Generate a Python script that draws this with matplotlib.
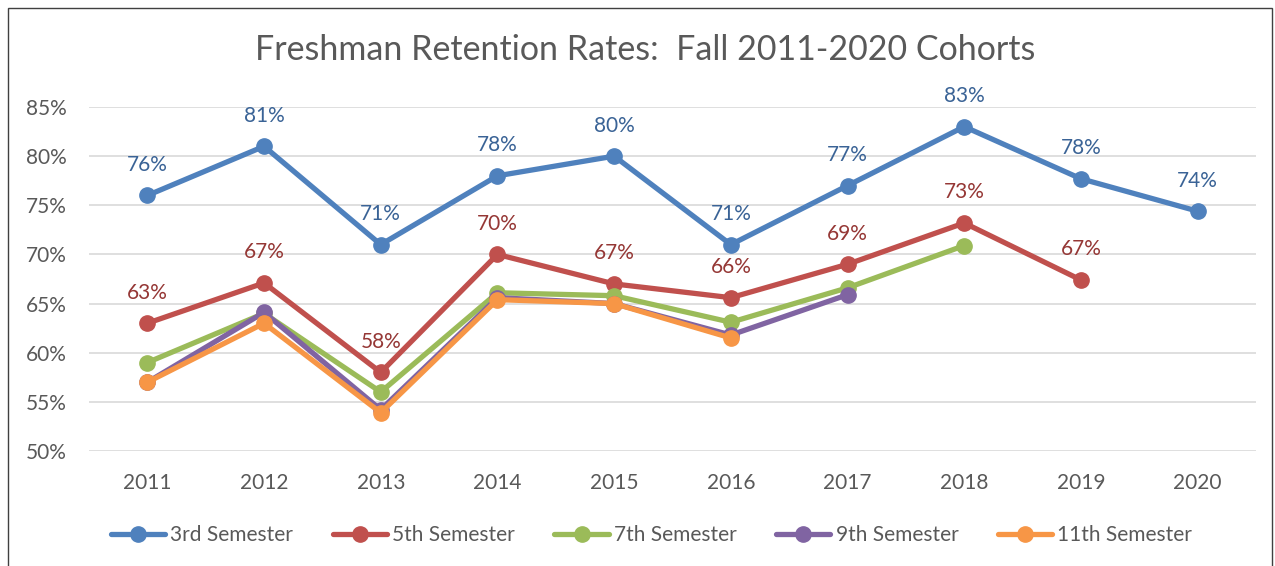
import matplotlib
matplotlib.use("Agg")
import matplotlib.pyplot as plt
from matplotlib.patches import Rectangle
from matplotlib.ticker import FuncFormatter

years = ["2011", "2012", "2013", "2014", "2015", "2016", "2017", "2018", "2019", "2020"]
sem3 = [76.0, 81.0, 71.0, 78.0, 80.0, 71.0, 77.0, 83.0, 77.7, 74.4]
sem5 = [63.0, 67.1, 58.0, 70.0, 67.0, 65.6, 69.0, 73.2, 67.4]
sem7 = [59.0, 64.0, 56.0, 66.1, 65.8, 63.1, 66.6, 70.9]
sem9 = [57.0, 64.1, 54.2, 65.6, 65.0, 61.8, 65.9]
sem11 = [57.0, 63.0, 53.9, 65.4, 65.0, 61.5]
labels3 = ["76%", "81%", "71%", "78%", "80%", "71%", "77%", "83%", "78%", "74%"]
labels5 = ["63%", "67%", "58%", "70%", "67%", "66%", "69%", "73%", "67%"]
series_names = ["3rd Semester", "5th Semester", "7th Semester", "9th Semester", "11th Semester"]

colors = ["#4F81BD", "#C0504D", "#9BBB59", "#8064A2", "#F79646"]
label_colors = ["#3A6396", "#953735"]

plt.rcParams['font.family'] = ['Lato', 'DejaVu Sans']
fig = plt.figure(figsize=(12.75, 5.66), dpi=100)
ax = fig.add_axes([89/1275, 1-451/566, (1256-89)/1275, (451-107)/566])

x = list(range(len(years)))
all_series = [sem3, sem5, sem7, sem9, sem11]
handles = []
for i, (s, c, name) in enumerate(zip(all_series, colors, series_names)):
    h, = ax.plot(x[:len(s)], s, color=c, lw=3.8, marker='o', ms=11,
                 solid_capstyle='round', solid_joinstyle='round', label=name, zorder=3 + i * 0.1)
    handles.append(h)

for xi, v, t in zip(x, sem3, labels3):
    ax.annotate(t, (xi, v), xytext=(0, 22), textcoords='offset points', ha='center', va='center',
                fontsize=15, color=label_colors[0])
for xi, v, t in zip(x, sem5, labels5):
    ax.annotate(t, (xi, v), xytext=(0, 22), textcoords='offset points', ha='center', va='center',
                fontsize=15, color=label_colors[1])

ax.set_xlim(-0.5, len(years) - 0.5)
ax.set_ylim(50, 85)
ax.set_yticks(range(50, 86, 5))
ax.yaxis.set_major_formatter(FuncFormatter(lambda v, p: f"{int(v)}%"))
ax.set_xticks(x)
ax.set_xticklabels(years)
ax.grid(axis='y', color='#D9D9D9', lw=1.2)
ax.set_axisbelow(True)
for sp in ax.spines.values():
    sp.set_visible(False)
ax.tick_params(axis='both', length=0, labelsize=15, colors='#595959')
ax.tick_params(axis='y', pad=16)
ax.tick_params(axis='x', pad=16)

fig.text(645/1275, 1 - 50/566, "Freshman Retention Rates:  Fall 2011-2020 Cohorts", ha='center', va='center',
         fontsize=24.5, color='#595959')

fig.legend(handles=handles, loc='center', bbox_to_anchor=(0.511, 1 - 535/566), ncol=5, frameon=False,
           fontsize=15, handlelength=2.6, columnspacing=1.9, handletextpad=0.25, labelcolor='#595959')

fig.patches.append(Rectangle((8/1275, -0.01), (1272-8)/1275, 1 - 8/566 + 0.01, transform=fig.transFigure,
                             fill=False, edgecolor='#404040', lw=1.0))

fig.savefig("out.png", dpi=100)
